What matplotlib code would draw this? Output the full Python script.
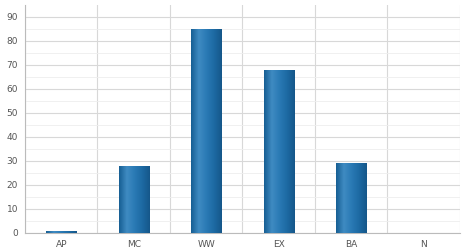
import matplotlib
matplotlib.use("Agg")
import matplotlib.pyplot as plt
import numpy as np
from matplotlib.colors import LinearSegmentedColormap

# data
categories = ["AP", "MC", "WW", "EX", "BA", "N"]
values = [1, 28, 85, 68, 29, 0]
y_ticks = [0, 10, 20, 30, 40, 50, 60, 70, 80, 90]

fig = plt.figure(figsize=(4.64, 2.52), dpi=100)
ax = fig.add_axes([25 / 464, 19 / 252, 435 / 464, 228 / 252])

x = np.arange(len(categories))
bars = ax.bar(x, values, width=0.42, color="#1f6fa8", edgecolor="#1a5c8c", linewidth=0.6, zorder=3)

# cylinder-like shading on each bar
cmap = LinearSegmentedColormap.from_list("cyl", ["#175f94", "#3f8bc2", "#2a7ab5", "#1d6aa3", "#15578a"])
grad = np.linspace(0, 1, 64).reshape(1, -1)
for b in bars:
    if b.get_height() <= 0:
        continue
    x0, y0 = b.get_x(), b.get_y()
    im = ax.imshow(grad, cmap=cmap, aspect="auto", zorder=3.5,
                   extent=[x0, x0 + b.get_width(), y0, y0 + b.get_height()])
    im.set_clip_path(b)

ax.set_xlim(-0.5, len(categories) - 0.5)
ax.set_ylim(0, 95)
ax.set_yticks(y_ticks)
ax.set_yticks(np.arange(5, 95, 10), minor=True)
ax.set_xticks(x)
ax.set_xticklabels(categories)
ax.set_xticks(np.arange(-0.5, len(categories), 1), minor=True)

ax.grid(which="major", axis="y", color="#d8d8d8", linewidth=0.8, zorder=0)
ax.grid(which="minor", axis="y", color="#eeeeee", linewidth=0.6, zorder=0)
ax.grid(which="minor", axis="x", color="#d8d8d8", linewidth=0.8, zorder=0)

ax.tick_params(axis="both", which="both", length=0, labelsize=6.5, colors="#555555")
ax.tick_params(axis="y", pad=5)
ax.tick_params(axis="x", pad=5)

for s in ["top", "right"]:
    ax.spines[s].set_visible(False)
ax.spines["left"].set_color("#bbbbbb")
ax.spines["bottom"].set_color("#bbbbbb")

fig.savefig("out.png", dpi=100)
